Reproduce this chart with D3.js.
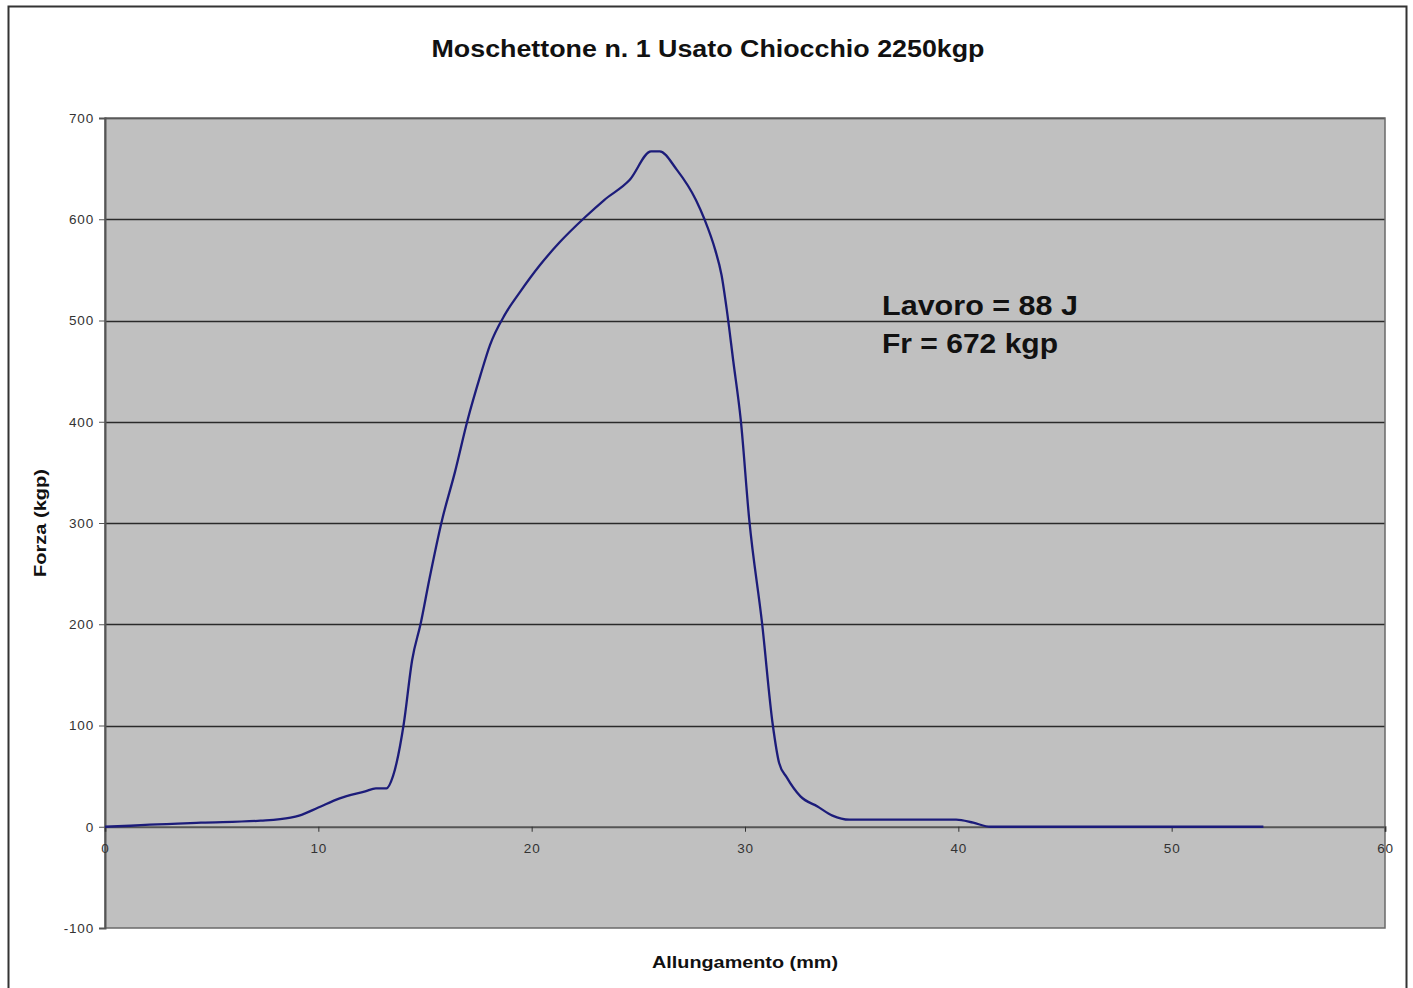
<!DOCTYPE html>
<html><head><meta charset="utf-8">
<script src="https://cdn.jsdelivr.net/npm/d3@7"></script>
<style>body{margin:0;background:#fff;}svg{display:block;font-family:"Liberation Sans",Arial,sans-serif;}</style>
</head><body><svg id="c" width="1413" height="988"></svg>
<script>
const title = "Moschettone n. 1 Usato Chiocchio 2250kgp";
const xLabel = "Allungamento (mm)";
const yLabel = "Forza (kgp)";
const annot = ["Lavoro = 88 J", "Fr = 672 kgp"];
const xTicks = [0,10,20,30,40,50,60];
const yTicks = [-100,0,100,200,300,400,500,600,700];
const elong = [0,1.2,2.1,4.5,7.3,8.7,9.1,10,11,12.2,12.7,13.2,13.5,14.0,14.4,14.8,15.2,15.8,16.4,17.0,17.6,18.05,18.75,19.45,20.4,21.3,22.5,23.4,24.6,25.6,26.0,26.8,27.7,28.1,28.6,28.9,29.15,29.45,29.8,30.2,30.8,31.3,31.6,31.95,32.6,33.4,34.1,34.9,39.9,40.7,41.5,54.3];
const force = [0,1,2,4,6,9,11,19,28,35,38,38,50,101,165,201,244,303,350,402,446,476,506,528,555,577,602,619,639,667,667,649,619,600,570,545,510,460,402,303,201,101,63,49,30,20,11,7,7,4,0,0];

const svg = d3.select("#c");
const L=105,T=118,R=1385,B=928;
const x = d3.scaleLinear().domain([0,60]).range([L,R]);
const y = d3.scaleLinear().domain([-100,700]).range([B,T]);
const FF = "Liberation Sans, Arial, sans-serif";

svg.append("rect").attr("x",8.5).attr("y",6.5).attr("width",1398).attr("height",1000).attr("fill","#fff").attr("stroke","#333").attr("stroke-width",2);

svg.append("text").attr("x",708).attr("y",57).attr("text-anchor","middle").attr("font-size",23).attr("font-weight","bold").attr("fill","#111")
  .attr("textLength",553).attr("lengthAdjust","spacingAndGlyphs").text(title);

svg.append("rect").attr("x",L).attr("y",T).attr("width",R-L).attr("height",B-T).attr("fill","#c0c0c0");

// gridlines
svg.append("g").selectAll("line").data(yTicks.filter(v=>v!==-100 && v!==0)).join("line")
  .attr("x1",L).attr("x2",R).attr("y1",d=>Math.round(y(d))+0.5).attr("y2",d=>Math.round(y(d))+0.5)
  .attr("stroke","#2a2a2a").attr("stroke-width",1.3);

// plot border
svg.append("rect").attr("x",L).attr("y",T).attr("width",R-L).attr("height",B-T).attr("fill","none").attr("stroke","#6a6a6a").attr("stroke-width",1.5);

// y axis
const ya = svg.append("g").attr("transform",`translate(${L},0)`).call(d3.axisLeft(y).tickValues(yTicks).tickFormat(d=>String(d)).tickSize(6).tickPadding(5));
ya.select(".domain").attr("stroke","#555").attr("stroke-width",2);
ya.selectAll(".tick line").attr("stroke","#555");
ya.selectAll("text").attr("font-size",13.5).attr("letter-spacing","0.8px").attr("fill","#333").attr("font-family",FF);

// x axis at zero
const xa = svg.append("g").attr("transform",`translate(0,${y(0)})`).call(d3.axisBottom(x).tickValues(xTicks).tickFormat(d=>String(d)).tickSize(5).tickPadding(12));
xa.select(".domain").attr("stroke","#555").attr("stroke-width",2);
xa.selectAll(".tick line").attr("stroke","#333");
xa.selectAll("text").attr("font-size",13.5).attr("letter-spacing","0.8px").attr("fill","#333").attr("font-family",FF);

// line
const line = d3.line().x((d,i)=>x(elong[i])).y(d=>y(d)).curve(d3.curveMonotoneX);
svg.append("path").datum(force).attr("d",line).attr("fill","none").attr("stroke","#1c1c7a").attr("stroke-width",2.3);

// annotations
const annW = [196,176];
svg.append("g").selectAll("text").data(annot).join("text")
  .attr("x",882).attr("y",(d,i)=>315+i*38).attr("font-size",28).attr("font-weight","bold").attr("fill","#111")
  .attr("textLength",(d,i)=>annW[i]).attr("lengthAdjust","spacingAndGlyphs").text(d=>d);

svg.append("text").attr("x",745).attr("y",968).attr("text-anchor","middle").attr("font-size",16.5).attr("font-weight","bold").attr("fill","#111")
  .attr("textLength",186).attr("lengthAdjust","spacingAndGlyphs").text(xLabel);
svg.append("text").attr("transform","translate(46,523) rotate(-90)").attr("text-anchor","middle").attr("font-size",16.5).attr("font-weight","bold").attr("fill","#111")
  .attr("textLength",108).attr("lengthAdjust","spacingAndGlyphs").text(yLabel);
</script></body></html>
